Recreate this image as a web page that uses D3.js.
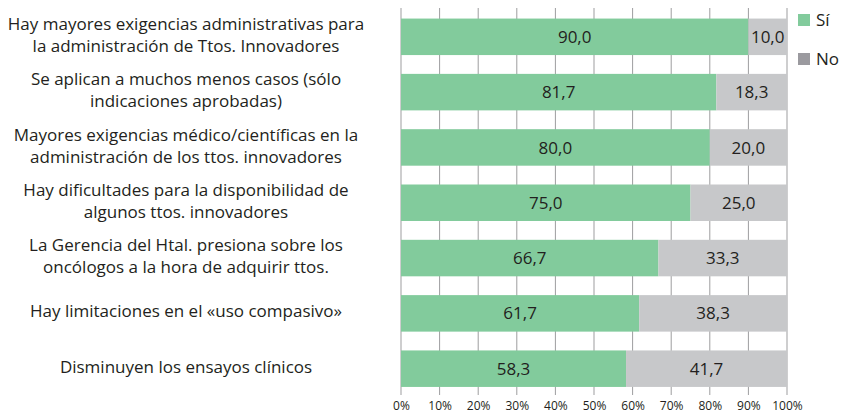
<!DOCTYPE html>
<html>
<head>
<meta charset="utf-8">
<script src="https://cdn.jsdelivr.net/npm/d3@7"></script>
<style>
  body { margin: 0; background: #fff; }
  text { font-family: "Open Sans", sans-serif; fill: #231f20; }
</style>
</head>
<body>
<div id="chart"></div>
<script>
// Data
const categories = [
  ['Hay mayores exigencias administrativas para', 'la administración de Ttos. Innovadores'],
  ['Se aplican a muchos menos casos (sólo', 'indicaciones aprobadas)'],
  ['Mayores exigencias médico/científicas en la', 'administración de los ttos. innovadores'],
  ['Hay dificultades para la disponibilidad de', 'algunos ttos. innovadores'],
  ['La Gerencia del Htal. presiona sobre los', 'oncólogos a la hora de adquirir ttos.'],
  ['Hay limitaciones en el «uso compasivo»'],
  ['Disminuyen los ensayos clínicos']
]
const siValues = [90.0, 81.7, 80.0, 75.0, 66.7, 61.7, 58.3]
const noValues = [10.0, 18.3, 20.0, 25.0, 33.3, 38.3, 41.7]
const tickValues = [0, 10, 20, 30, 40, 50, 60, 70, 80, 90, 100]
const legendLabels = ['Sí', 'No']

// Const variables
const width = 845
const height = 414
const plot = { left: 401, right: 787, top: 8, bottom: 395 }
const green = '#82cb9c'
const grey = '#c7c8ca'

const svg = d3.select('#chart')
  .append('svg')
    .attr('width', width)
    .attr('height', height)

const x = d3.scaleLinear().domain([0, 100]).range([plot.left, plot.right])
const y = d3.scaleBand()
  .domain(d3.range(categories.length))
  .range([plot.top - 0.5, plot.bottom + 3])
  .paddingInner(0.34)
  .paddingOuter(0.2)

// Grid lines
svg.append('g')
  .selectAll('line')
  .data(tickValues)
  .enter()
  .append('line')
    .attr('x1', d => x(d))
    .attr('x2', d => x(d))
    .attr('y1', plot.top)
    .attr('y2', plot.bottom)
    .attr('stroke', '#9d9d9f')
    .attr('stroke-width', 1)

// Axis labels
const axis = svg.append('g')
  .attr('transform', `translate(0,${plot.bottom})`)
  .call(d3.axisBottom(x).tickValues(tickValues).tickSize(0).tickPadding(6).tickFormat(d => d + '%'))
axis.select('.domain').remove()
axis.selectAll('text')
  .attr('font-size', 12)
  .style('font-family', '"Open Sans", sans-serif')
  .attr('fill', '#231f20')

// Bars
const rows = svg.append('g')
  .selectAll('g')
  .data(categories.map((c, i) => ({ label: c, si: siValues[i], no: noValues[i], i })))
  .enter()
  .append('g')

rows.append('rect')
  .attr('x', x(0))
  .attr('y', d => y(d.i))
  .attr('width', d => x(d.si) - x(0))
  .attr('height', y.bandwidth())
  .attr('fill', green)

rows.append('rect')
  .attr('x', d => x(d.si))
  .attr('y', d => y(d.i))
  .attr('width', d => x(d.si + d.no) - x(d.si))
  .attr('height', y.bandwidth())
  .attr('fill', grey)

const fmt = v => v.toFixed(1).replace('.', ',')

rows.append('text')
  .attr('x', d => (x(0) + x(d.si)) / 2)
  .attr('y', d => y(d.i) + y.bandwidth() / 2)
  .attr('dy', '0.36em')
  .attr('text-anchor', 'middle')
  .attr('font-size', 17)
  .text(d => fmt(d.si))

rows.append('text')
  .attr('x', d => (x(d.si) + x(d.si + d.no)) / 2)
  .attr('y', d => y(d.i) + y.bandwidth() / 2)
  .attr('dy', '0.36em')
  .attr('text-anchor', 'middle')
  .attr('font-size', 17)
  .text(d => fmt(d.no))

// Category labels
rows.append('text')
  .attr('x', 186)
  .attr('y', d => y(d.i) + y.bandwidth() / 2 - (d.label.length - 1) * 11 - 2)
  .attr('text-anchor', 'middle')
  .attr('font-size', 17)
  .selectAll('tspan')
  .data(d => d.label)
  .enter()
  .append('tspan')
    .attr('x', 186)
    .attr('dy', (d, i) => i === 0 ? '0.36em' : 22)
    .text(d => d)

// Legend
const legend = svg.append('g')
  .selectAll('g')
  .data(legendLabels)
  .enter()
  .append('g')
    .attr('transform', (d, i) => `translate(798,${20 + i * 39})`)

legend.append('rect')
  .attr('x', 0)
  .attr('y', -6)
  .attr('width', 12)
  .attr('height', 12)
  .attr('fill', (d, i) => i === 0 ? green : '#9b9a9f')

legend.append('text')
  .attr('x', 18)
  .attr('dy', '0.36em')
  .attr('font-size', 17)
  .text(d => d)
</script>
</body>
</html>
